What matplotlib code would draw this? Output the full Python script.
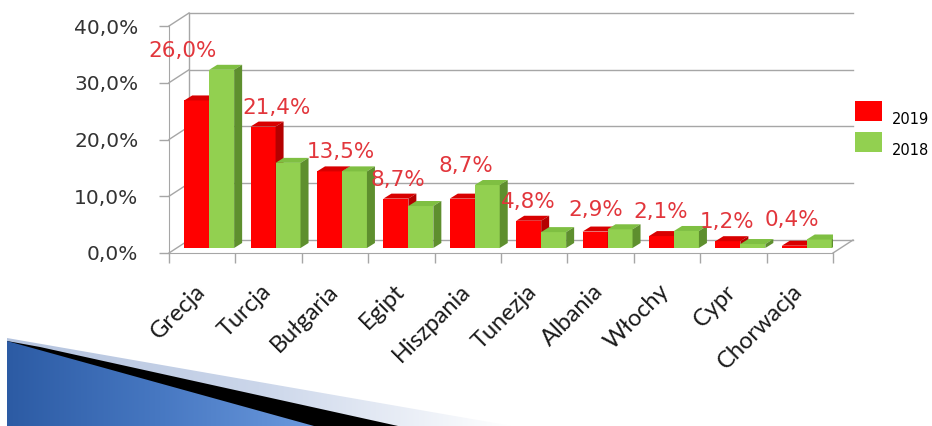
import numpy as np
import matplotlib
matplotlib.use('Agg')
from matplotlib import pyplot as plt
from matplotlib.patches import Polygon, Patch
from matplotlib.colors import LinearSegmentedColormap
from matplotlib.transforms import ScaledTranslation

countries = ['Grecja', 'Turcja', 'Bułgaria', 'Egipt', 'Hiszpania',
             'Tunezja', 'Albania', 'Włochy', 'Cypr', 'Chorwacja']
y2019 = [26.0, 21.4, 13.5, 8.7, 8.7, 4.8, 2.9, 2.1, 1.2, 0.4]
y2018 = [31.4, 15.0, 13.5, 7.4, 11.1, 2.8, 3.3, 3.0, 0.7, 1.5]
yticks = [0, 10, 20, 30, 40]

# horizontal nudge (px) of the red value labels, as placed on the slide
label_dx = [-20, 8, 6, -4, -2, -6, -5, -6, -6, -8]

RED = ['#ff0000', '#d80000', '#b40000']      # front, top, side
GREEN = ['#92d050', '#7fbf42', '#5e8f2e']
GRID = '#a6a6a6'
W, H = 932, 426

fig = plt.figure(figsize=(W / 100, H / 100), dpi=100)

# slide decoration, bottom left (pixel coords, y down)
bg = fig.add_axes([0, 0, 1, 1], zorder=-1)
g = np.linspace(0, 1, 256)[None, :]
light = Polygon([(7, 338), (512, 426), (7, 426)], closed=True, fc='none', ec='none')
bg.add_patch(light)
im = bg.imshow(g, extent=(7, 512, 426, 338), aspect='auto',
               cmap=LinearSegmentedColormap.from_list('l', ['#b4c3de', '#cbd6ea', '#ffffff']))
im.set_clip_path(light)
bg.add_patch(Polygon([(7, 341), (40, 347), (398, 426), (7, 426)],
                     closed=True, fc='black', ec='none', zorder=2))
blue = Polygon([(7, 341), (314, 426), (7, 426)], closed=True, fc='none', ec='none')
bg.add_patch(blue)
im2 = bg.imshow(g, extent=(7, 314, 426, 341), aspect='auto', zorder=3,
                cmap=LinearSegmentedColormap.from_list('b', ['#2c5ba4', '#4778c2', '#6b99dd']))
im2.set_clip_path(blue)
bg.set_xlim(0, W)
bg.set_ylim(H, 0)
bg.axis('off')

ax = fig.add_axes([169 / W, 1 - 253 / H, 664 / W, 227 / H])
ax.set_xlim(-0.5, 9.5)
ax.set_ylim(0, 40)
ax.patch.set_alpha(0)

ppx = 664 / 10
ppy = 227 / 40
def dxu(p): return p / ppx
def dyu(p): return p / ppy

# back wall + floor (offset perspective)
bx, by = dxu(20), dyu(13)
for v in yticks:
    ax.plot([-0.5 + bx, 9.5 + bx], [v + by, v + by], color=GRID, lw=1, clip_on=False, zorder=1)
    ax.plot([-0.5, -0.5 + bx], [v, v + by], color=GRID, lw=1, clip_on=False, zorder=1)
ax.plot([-0.5 + bx] * 2, [by, 40 + by], color=GRID, lw=1, clip_on=False, zorder=1)
ax.plot([9.5, 9.5 + bx], [0, by], color=GRID, lw=1, clip_on=False, zorder=1)

# 3d bars
base = dyu(5)
bw = 0.376
sx, sy = dxu(8), dyu(5)

def bar3d(x, h, cols, z):
    y0, y1 = base, base + h
    ax.bar(x, h, width=bw, bottom=base, align='edge', color=cols[0], zorder=z)
    ax.add_patch(Polygon([(x, y1), (x + bw, y1), (x + bw + sx, y1 + sy), (x + sx, y1 + sy)],
                         closed=True, fc=cols[1], ec='none', zorder=z))
    ax.add_patch(Polygon([(x + bw, y0), (x + bw + sx, y0 + sy), (x + bw + sx, y1 + sy), (x + bw, y1)],
                         closed=True, fc=cols[2], ec='none', zorder=z))

idx = np.arange(len(countries))
for i in idx:
    bar3d(i + 0.105 - bw, y2019[i], RED, 3 + i * 2)
    bar3d(i + 0.105, y2018[i], GREEN, 4 + i * 2)
    top = base + max(y2019[i], y2018[i])
    ax.text(i + dxu(label_dx[i]), top + dyu(19), '{:.1f}%'.format(y2019[i]).replace('.', ','),
            color='#e2363c', fontsize=15.5, ha='center', va='center', zorder=30)

# axes
for s in ['top', 'right']:
    ax.spines[s].set_visible(False)
for s in ['left', 'bottom']:
    ax.spines[s].set_color(GRID)
ax.set_yticks(yticks)
ax.set_yticklabels(['{:.1f}%'.format(v).replace('.', ',') for v in yticks],
                   fontsize=14.5, color='#333333')
ax.tick_params(axis='y', length=7, width=1, color=GRID, pad=15)
ax.set_xticks(idx)
ax.set_xticklabels(countries, rotation=45, ha='right', rotation_mode='anchor',
                   fontsize=17, family='Lato', color='#1a1a1a')
ax.tick_params(axis='x', length=0, pad=20)
shift = ScaledTranslation(-0.08, 0, fig.dpi_scale_trans)
for lbl in ax.get_xticklabels():
    lbl.set_transform(lbl.get_transform() + shift)
ax.set_xticks(np.arange(-0.5, 10, 1), minor=True)
ax.tick_params(axis='x', which='minor', length=7, width=1, color=GRID)

leg = ax.legend(handles=[Patch(fc=RED[0]), Patch(fc=GREEN[0])], labels=['2019', '2018'],
                loc='upper left', bbox_to_anchor=(855 / W, 1 - 101 / H), bbox_transform=fig.transFigure,
                frameon=False, fontsize=10.5, handlelength=1.85, handleheight=1.75,
                handletextpad=0.7, labelspacing=0.75, borderaxespad=0, borderpad=0)
for t in leg.get_texts():
    t.set_y(-8)

fig.savefig('out.png', dpi=100)
